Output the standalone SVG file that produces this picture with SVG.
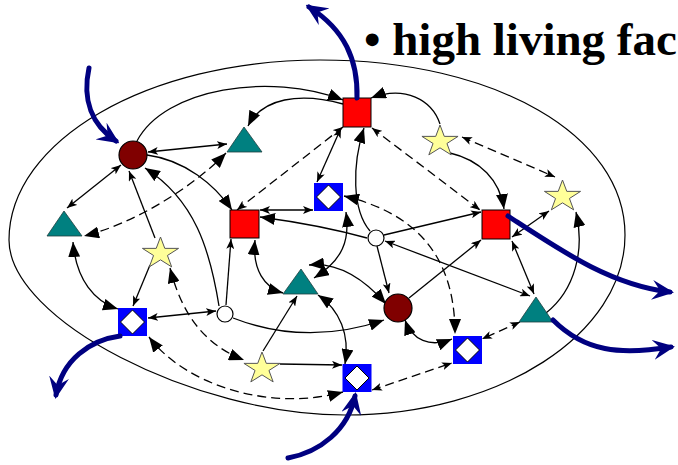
<svg xmlns="http://www.w3.org/2000/svg" xmlns:xlink="http://www.w3.org/1999/xlink" width="678" height="465" viewBox="0 0 678 465">
<style>
.c{fill:none;stroke:#000;stroke-width:1.3}
.d{fill:none;stroke:#000;stroke-width:1.3;stroke-dasharray:9 5}
.nv{fill:none;stroke:#000080;stroke-width:5;stroke-linecap:round}
.sq{fill:#ff0000;stroke:#000;stroke-width:1}
.tr{fill:#008080;stroke:#1f3f3f;stroke-width:0.8}
.ci{fill:#800000;stroke:#000;stroke-width:1.2}
.wc{fill:#fff;stroke:#000;stroke-width:1.2}
.st{fill:#ffff99;stroke:#555;stroke-width:1}
.title{font-family:"Liberation Serif","Times New Roman",serif;font-weight:bold;font-size:47px;fill:#000}
</style>
<defs>
<marker id="s" viewBox="0 0 10 8" refX="10" refY="4" markerWidth="10" markerHeight="8" markerUnits="userSpaceOnUse" orient="auto-start-reverse"><path d="M0,0 L10,4 L0,8 L2.5,4 z" fill="#000"/></marker>
<marker id="b" viewBox="0 0 15 12" refX="15" refY="6" markerWidth="15" markerHeight="12" markerUnits="userSpaceOnUse" orient="auto-start-reverse"><path d="M0,0 L15,6 L0,12 z" fill="#000"/></marker>
<marker id="n" viewBox="0 0 22 20" refX="18" refY="10" markerWidth="22" markerHeight="20" markerUnits="userSpaceOnUse" orient="auto"><path d="M0,0 L22,10 L0,20 L8,10 z" fill="#000080"/></marker>
<polygon id="star" points="0,-16.5 4.29,-5.14 18.07,-5.11 6.94,1.97 11.17,13.37 0,6.35 -11.17,13.37 -6.94,1.97 -18.07,-5.11 -4.29,-5.14" class="st"/>
<g id="bd"><rect x="-14.5" y="-14" width="29" height="28" fill="#0000ff"/><polygon points="0,-12 12,0 0,12 -12,0" fill="#fff" stroke="#000" stroke-width="1"/></g>
</defs>
<rect width="678" height="465" fill="#fff"/>
<text class="title" x="364" y="55">• high living fac</text>
<path id="boundary" class="c" d="M9,240 C9,140.6 148,60 320,60 C495,60 625,135 625,235 C625,334 500,415 345,415 C195,415 9,320 9,240 Z" style="stroke-width:1.2"/>
<g id="connectors">
<path class="c" d="M137,141 C165,88 270,72 343,100" marker-end="url(#b)"/>
<path class="c" d="M343,104 C300,92 262,98 248,126" marker-end="url(#b)"/>
<path class="c" d="M148,152 L227,144" marker-start="url(#s)" marker-end="url(#s)"/>
<path class="d" d="M343,127 L237,210" marker-start="url(#s)" marker-end="url(#s)"/>
<path class="c" d="M341,128 L317,182" marker-start="url(#s)" marker-end="url(#s)"/>
<path class="d" d="M226,153 C190,190 130,225 84,236" marker-start="url(#b)" marker-end="url(#b)"/>
<path class="c" d="M147,155 C185,160 215,185 232,210" marker-end="url(#b)"/>
<path class="c" d="M121,165 L67,208" marker-start="url(#s)" marker-end="url(#s)"/>
<path class="c" d="M155,238 L129,171" marker-end="url(#s)"/>
<path class="c" d="M219,306 C210,250 195,200 145,168" marker-end="url(#b)"/>
<path class="c" d="M73,242 C76,280 95,302 118,309" marker-start="url(#b)" marker-end="url(#b)"/>
<path class="c" d="M150,265 L133,306" marker-end="url(#s)"/>
<path class="c" d="M148,318 L216,311" marker-start="url(#s)" marker-end="url(#s)"/>
<path class="d" d="M170,268 C182,315 205,345 244,360" marker-start="url(#b)" marker-end="url(#b)"/>
<path class="d" d="M149,337 C185,385 270,412 343,392" marker-start="url(#b)" marker-end="url(#b)"/>
<path class="c" d="M226,305 L231,239" marker-end="url(#s)"/>
<path class="c" d="M255,240 C252,270 265,288 283,293" marker-start="url(#b)" marker-end="url(#b)"/>
<path class="c" d="M233,318 C290,340 340,335 384,320" marker-end="url(#b)"/>
<path class="c" d="M263,351 L297,296" marker-end="url(#s)"/>
<path class="c" d="M280,364 L342,365" marker-end="url(#s)"/>
<path class="c" d="M318,295 C340,310 350,335 345,364" marker-start="url(#b)" marker-end="url(#b)"/>
<path class="d" d="M372,390 L452,363" marker-start="url(#s)" marker-end="url(#s)"/>
<path class="c" d="M346,212 C350,240 343,260 314,278" marker-start="url(#b)" marker-end="url(#b)"/>
<path class="c" d="M309,265 C340,262 365,280 386,304" marker-start="url(#b)" marker-end="url(#b)"/>
<path class="c" d="M370,231 C352,210 352,165 364,128" marker-end="url(#b)"/>
<path class="c" d="M440,124 C432,100 405,85 371,98" marker-end="url(#b)"/>
<path class="d" d="M372,128 L480,210" marker-start="url(#s)" marker-end="url(#s)"/>
<path class="d" d="M344,196 C410,212 455,250 455,334" marker-start="url(#b)" marker-end="url(#b)"/>
<path class="c" d="M450,153 C480,160 500,180 504,209" marker-end="url(#b)"/>
<path class="d" d="M462,137 L555,177" marker-start="url(#s)" marker-end="url(#s)"/>
<path class="c" d="M512,237 L549,211" marker-start="url(#s)" marker-end="url(#s)"/>
<path class="c" d="M384,235 L481,212" marker-end="url(#s)"/>
<path class="c" d="M385,241 L530,296" marker-start="url(#s)" marker-end="url(#s)"/>
<path class="c" d="M512,241 L534,294" marker-start="url(#s)" marker-end="url(#s)"/>
<path class="c" d="M409,298 L481,240" marker-end="url(#s)"/>
<path class="c" d="M377,246 L389,293" marker-end="url(#s)"/>
<path class="c" d="M367,238 Q320,225 260,217" marker-end="url(#b)"/>
<path class="c" d="M260,210 L313,210" marker-start="url(#s)" marker-end="url(#s)"/>
<path class="c" d="M405,320 C412,340 430,348 452,339" marker-start="url(#b)" marker-end="url(#b)"/>
<path class="d" d="M520,322 L482,339" marker-start="url(#s)" marker-end="url(#s)"/>
<path class="c" d="M546,313 C575,290 585,250 576,212" marker-end="url(#b)"/>
</g>
<g id="nodes">
<g id="C1"><circle class="ci" cx="133" cy="155" r="14"/></g>
<g id="T1"><polygon class="tr" points="244,127 227,152 262,152"/></g>
<g id="S1"><rect class="sq" x="343" y="98" width="28" height="29"/></g>
<g id="Y1"><use xlink:href="#star" x="440" y="141.5"/></g>
<g id="Y2"><use xlink:href="#star" x="562.5" y="196.5"/></g>
<g id="S3"><rect class="sq" x="482" y="210" width="28" height="29"/></g>
<g id="B1"><use xlink:href="#bd" x="328.5" y="197"/></g>
<g id="S2"><rect class="sq" x="230" y="210" width="29" height="28"/></g>
<g id="T2"><polygon class="tr" points="64,211 47,236 82,236"/></g>
<g id="Y3"><use xlink:href="#star" x="160.5" y="253.5"/></g>
<g id="W1"><circle class="wc" cx="376" cy="238" r="8"/></g>
<g id="T3"><polygon class="tr" points="301,269 283,294 318,294"/></g>
<g id="C2"><circle class="ci" cx="398" cy="308" r="14"/></g>
<g id="W2"><circle class="wc" cx="225" cy="314" r="8"/></g>
<g id="B2"><use xlink:href="#bd" x="132.5" y="322"/></g>
<g id="T4"><polygon class="tr" points="536,297 519,322 553,322"/></g>
<g id="Y4"><use xlink:href="#star" x="262" y="368.5"/></g>
<g id="B3"><use xlink:href="#bd" x="467.5" y="350"/></g>
<g id="B4"><use xlink:href="#bd" x="357" y="378"/></g>
</g>
<g id="flows">
<path class="nv" d="M89,68 C82,100 92,125 116,141" marker-end="url(#n)"/>
<path class="nv" d="M357,98 C358,60 345,30 309,7" marker-end="url(#n)"/>
<path class="nv" d="M508,216 C560,250 610,285 670,292" marker-end="url(#n)"/>
<path class="nv" d="M553,320 C585,352 620,355 671,347" marker-end="url(#n)"/>
<path class="nv" d="M120,336 C90,340 62,360 56,395" marker-end="url(#n)"/>
<path class="nv" d="M288,458 C320,452 348,430 355,396" marker-end="url(#n)"/>
</g>
</svg>
